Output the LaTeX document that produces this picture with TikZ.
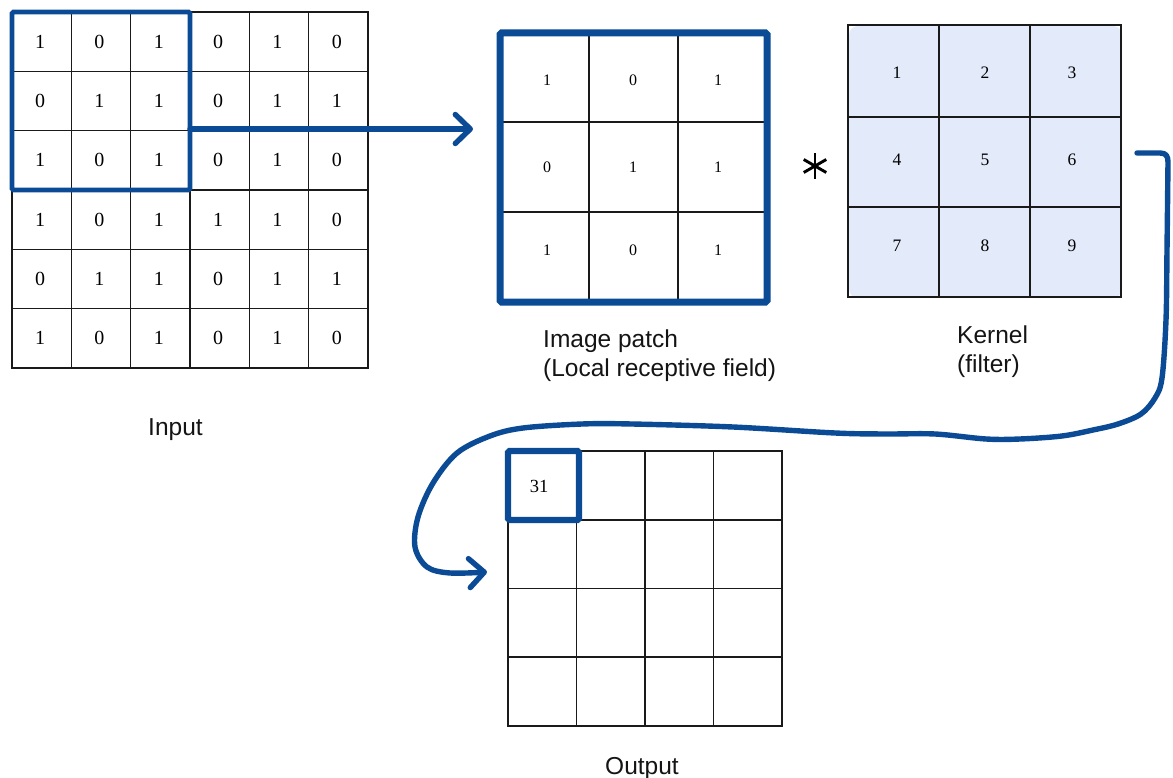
\documentclass[tikz,border=0pt]{standalone}
\usepackage{fontspec}
\setmainfont{Liberation Serif}
\newfontfamily\labelfont{Liberation Sans}
\usetikzlibrary{arrows.meta}
\definecolor{cnnblue}{HTML}{0B4A95}
\definecolor{kernfill}{HTML}{E3EBFB}
\definecolor{gridline}{HTML}{1A1A1A}
\begin{document}
\begin{tikzpicture}[x=1pt,y=-1pt,
  gridln/.style={draw=gridline, line width=1.6pt},
  frame/.style={draw=gridline, line width=1.6pt, inner sep=0pt, outer sep=0pt,
    anchor=north west, minimum width=#1},
  hilite/.style={draw=cnnblue, line width=#1, rounded corners=1.5pt,
    inner sep=0pt, outer sep=0pt, anchor=north west},
  indigit/.style={font=\fontsize{20}{20}\selectfont, inner sep=0pt},
  patchdigit/.style={font=\fontsize{16}{16}\selectfont, inner sep=0pt},
  kerndigit/.style={font=\fontsize{17.5}{17.5}\selectfont, inner sep=0pt},
  outdigit/.style={font=\fontsize{18.5}{18.5}\selectfont, inner sep=0pt},
  lbl/.style={font=\labelfont\fontsize{24.5}{29}\selectfont, text=black!92,
    inner sep=0pt, anchor=base west},
  conn/.style={draw=cnnblue, line width=5.4pt, line cap=round, line join=round},
  barb/.style={-{Straight Barb[length=15pt,width=29pt,round]}}
]
\useasboundingbox (0,0) rectangle (1173,778);

% ---------- input matrix 6x6 ----------
\node[frame=356pt, minimum height=356pt] (input) at (12,12) {};
\foreach \k in {1,...,5} {
  \draw[gridln] ({12+59.33*\k},12) -- ({12+59.33*\k},368);
  \draw[gridln] (12,{12+59.33*\k}) -- (368,{12+59.33*\k});
}
\foreach \row [count=\r] in {{1,0,1,0,1,0},{0,1,1,0,1,1},{1,0,1,0,1,0},
                             {1,0,1,1,1,0},{0,1,1,0,1,1},{1,0,1,0,1,0}} {
  \foreach \v [count=\c] in \row {
    \node[indigit] (in-\r-\c) at ({10.5+59.33*(\c-0.5)},{12+59.33*(\r-0.5)}) {\v};
  }
}
\node[hilite=4.6pt, minimum width=178pt, minimum height=178pt] (inhl) at (12,12) {};
\node[lbl] (inputlbl) at (148,435) {Input};

% ---------- image patch 3x3 ----------
\foreach \x in {589,678} \draw[gridln] (\x,33) -- (\x,302);
\foreach \y in {122,212} \draw[gridln] (500,\y) -- (767,\y);
\node[hilite=7pt, minimum width=267pt, minimum height=269pt] (patch) at (500,33) {};
\foreach \row [count=\r] in {{1,0,1},{0,1,1},{1,0,1}} {
  \foreach \v [count=\c] in \row {
    \pgfmathsetmacro{\px}{{547,633,718}[\c-1]}
    \pgfmathsetmacro{\py}{{80,167,250}[\r-1]}
    \node[patchdigit] (pa-\r-\c) at (\px,\py) {\v};
  }
}
\node[lbl] (patchlbla) at (543,347) {Image patch};
\node[lbl] (patchlblb) at (543,376) {(Local receptive field)};

% ---------- convolution sign ----------
\foreach \a in {90,30,-30}
  \draw[line width=2.9pt, black] (815,166) ++(\a:13) -- ++(\a+180:26);

% ---------- kernel 3x3 ----------
\fill[kernfill, rounded corners=9pt] (849,26) rectangle (1122,298);
\foreach \x in {939,1030} \draw[gridln] (\x,25) -- (\x,297);
\foreach \y in {117,207} \draw[gridln] (848,\y) -- (1121,\y);
\node[frame=273pt, minimum height=272pt] (kernel) at (848,25) {};
\foreach \v [count=\i from 0] in {1,...,9} {
  \pgfmathtruncatemacro{\c}{mod(\i,3)}
  \pgfmathtruncatemacro{\r}{div(\i,3)}
  \pgfmathsetmacro{\kx}{{897,985,1072}[\c]}
  \pgfmathsetmacro{\ky}{{73,160,246}[\r]}
  \node[kerndigit] (ke-\v) at (\kx,\ky) {\v};
}
\node[lbl] (kernlbla) at (957,343) {Kernel};
\node[lbl] (kernlblb) at (957,372) {(filter)};

% ---------- output 4x4 ----------
\node[frame=274pt, minimum height=275pt] (output) at (508,451) {};
\foreach \k in {1,2,3} {
  \draw[gridln] ({508+68.5*\k},451) -- ({508+68.5*\k},726);
  \draw[gridln] (508,{451+68.75*\k}) -- (782,{451+68.75*\k});
}
\node[hilite=6.2pt, minimum width=71pt, minimum height=69pt] (outhl) at (508,451) {};
\node[outdigit] (out-1-1) at (539,486) {31};
\node[lbl] (outputlbl) at (605,774) {Output};

% ---------- connectors ----------
\coordinate (tap) at (190,129);
\draw[conn, barb] (tap) -- ([xshift=-27pt]patch.west |- tap);

\coordinate (kout) at (1137,153);
\coordinate (oin) at (487,572);
\draw[conn, barb] (kout) -- (1160,153) .. controls (1166,153) and (1168,156) .. (1168,162)
  -- plot[smooth, tension=0.55] coordinates {(1168,162) (1167,250) (1166,320)
  (1162,378) (1155,398) (1141,414) (1118,424) (1093,430) (1062,436) (1020,439)
  (986,439) (935,434) (885,434) (835,433) (733,427) (632,424) (582,424)
  (523,428) (490,436) (457,453) (433,483) (418,517) (415,547) (427,567)
  (450,573) (oin)};
\end{tikzpicture}
\end{document}
